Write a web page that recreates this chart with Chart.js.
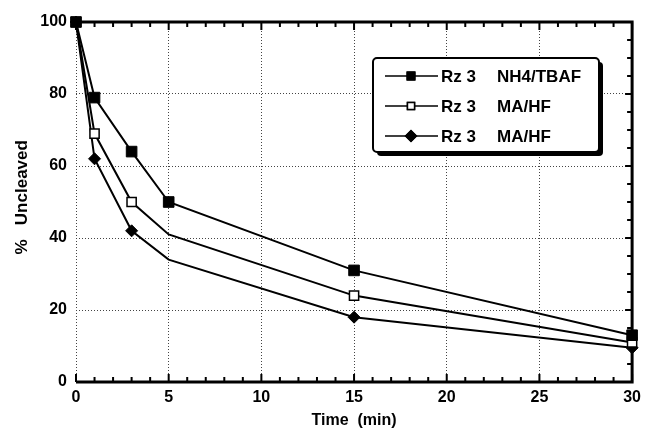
<!DOCTYPE html>
<html>
<head>
<meta charset="utf-8">
<script src="https://cdn.jsdelivr.net/npm/chart.js@4.4.1/dist/chart.umd.min.js"></script>
<style>
  html, body { margin: 0; padding: 0; background: #fff; }
  #wrap { position: relative; width: 647px; height: 432px; }
</style>
</head>
<body>
<div id="wrap"><canvas id="c"></canvas></div>
<script>
// values
var timeMin = [0, 1, 3, 5, 15, 30];
var nh4Tbaf = [100, 79, 64, 50, 31, 13];
var maHfOpen = [100, 69, 50, 41, 24, 11];
var maHfDiamond = [100, 62, 42, 34, 18, 9.5];
var seriesNames = ['Rz 3   NH4/TBAF', 'Rz 3   MA/HF', 'Rz 3   MA/HF'];
var xTicks = [0, 5, 10, 15, 20, 25, 30];
var yTicks = [0, 20, 40, 60, 80, 100];

var FONT = '"Liberation Sans", Arial, Helvetica, sans-serif';

function pts(ys) {
  return ys.map(function (y, i) { return { x: timeMin[i], y: y }; });
}

// open/diamond series have no marker at the 5 min bend
function radiusFor(r, skipFive) {
  return function (ctx) {
    if (skipFive && timeMin[ctx.dataIndex] === 5) return 0;
    return r;
  };
}

var datasets = [
  { label: seriesNames[0], data: pts(nh4Tbaf), pointStyle: 'rect', pointRadius: radiusFor(7.5, false),
    backgroundColor: '#000', borderColor: '#000', pointBorderWidth: 1 },
  { label: seriesNames[1], data: pts(maHfOpen), pointStyle: 'rect', pointRadius: radiusFor(6.5, true),
    backgroundColor: '#fff', borderColor: '#000', pointBorderWidth: 1.5 },
  { label: seriesNames[2], data: pts(maHfDiamond), pointStyle: 'rectRot', pointRadius: radiusFor(6, true),
    backgroundColor: '#000', borderColor: '#000', pointBorderWidth: 1 }
].map(function (d) {
  d.borderWidth = 2;
  d.tension = 0;
  d.clip = false;
  d.pointBackgroundColor = d.backgroundColor;
  d.pointBorderColor = '#000';
  return d;
});

// solid bottom/top/right frame with inward ticks, dotted left edge comes from the grid
var framePlugin = {
  id: 'frame',
  beforeDatasetsDraw: function (chart) {
    var ctx = chart.ctx, xs = chart.scales.x, ys = chart.scales.y, a = chart.chartArea;
    ctx.save();
    ctx.strokeStyle = '#000';
    ctx.lineWidth = 3;
    ctx.beginPath();
    ctx.moveTo(a.left, a.top); ctx.lineTo(a.right, a.top);
    ctx.lineTo(a.right, a.bottom); ctx.lineTo(a.left, a.bottom);
    ctx.stroke();
    ctx.lineWidth = 2;
    ctx.beginPath();
    for (var t = 0; t <= 30; t++) {
      var px = xs.getPixelForValue(t);
      var len = t % 5 === 0 ? 8 : 5;
      ctx.moveTo(px, a.bottom); ctx.lineTo(px, a.bottom - len);
      ctx.moveTo(px, a.top); ctx.lineTo(px, a.top + len);
    }
    for (var v = 0; v <= 100; v += 5) {
      var py = ys.getPixelForValue(v);
      ctx.moveTo(a.right, py); ctx.lineTo(a.right - (v % 20 === 0 ? 7 : 5), py);
    }
    ctx.stroke();
    ctx.restore();
  },
  afterDraw: function (chart) {
    var ctx = chart.ctx;
    var bx = 373, by = 58, bw = 226, bh = 94;
    ctx.save();
    // shadow
    ctx.fillStyle = '#000';
    ctx.beginPath();
    ctx.roundRect(bx + 4, by + 4, bw, bh, 4);
    ctx.fill();
    ctx.fillStyle = '#fff';
    ctx.strokeStyle = '#000';
    ctx.lineWidth = 2;
    ctx.beginPath();
    ctx.roundRect(bx, by, bw, bh, 4);
    ctx.fill();
    ctx.stroke();

    var rows = [76, 106, 136];
    chart.data.datasets.forEach(function (ds, i) {
      var y = rows[i];
      ctx.strokeStyle = '#000';
      ctx.lineWidth = 1.5;
      ctx.beginPath();
      ctx.moveTo(385, y); ctx.lineTo(438, y);
      ctx.stroke();
      var r = i === 1 ? 5 : 5.5;
      Chart.helpers.drawPoint(ctx, {
        pointStyle: ds.pointStyle, radius: r, borderWidth: ds.pointBorderWidth, rotation: 0
      }, 411, y);
      ctx.fillStyle = ds.pointBackgroundColor;
      ctx.strokeStyle = '#000';
      ctx.lineWidth = ds.pointBorderWidth;
      ctx.fill();
      ctx.stroke();

      var parts = ds.label.split(/\s{2,}/);
      ctx.fillStyle = '#000';
      ctx.font = 'bold 17px ' + FONT;
      ctx.textBaseline = 'middle';
      ctx.textAlign = 'left';
      ctx.fillText(parts[0], 441, y + 1);
      ctx.fillText(parts[1], 497, y + 1);
    });
    ctx.restore();
  }
};

var dotted = {
  color: '#444',
  lineWidth: 1,
  drawTicks: false
};

new Chart(document.getElementById('c').getContext('2d'), {
  type: 'line',
  data: { datasets: datasets },
  plugins: [framePlugin],
  options: {
    responsive: true,
    maintainAspectRatio: false,
    animation: false,
    layout: { padding: { top: 22, right: 11, left: 0, bottom: 0 } },
    plugins: { legend: { display: false }, tooltip: { enabled: false } },
    scales: {
      x: {
        type: 'linear',
        min: 0, max: 30,
        afterBuildTicks: function (s) { s.ticks = xTicks.map(function (v) { return { value: v }; }); },
        afterFit: function (s) { s.height = 50; },
        grid: dotted,
        border: { display: false, dash: [1, 2] },
        ticks: { color: '#000', padding: 6, font: { family: FONT, size: 16, weight: 'bold' } },
        title: { display: true, text: 'Time  (min)', color: '#000', padding: { top: 0, bottom: 2 },
          font: { family: FONT, size: 16, weight: 'bold' } }
      },
      y: {
        min: 0, max: 100,
        afterBuildTicks: function (s) { s.ticks = yTicks.map(function (v) { return { value: v }; }); },
        afterFit: function (s) { s.width = 76; },
        grid: dotted,
        border: { display: false, dash: [1, 2] },
        ticks: { color: '#000', padding: 9, font: { family: FONT, size: 16, weight: 'bold' } },
        title: { display: true, text: '  %   Uncleaved', color: '#000', padding: { top: 12, bottom: 0 },
          font: { family: FONT, size: 17, weight: 'bold' } }
      }
    }
  }
});
</script>
</body>
</html>
